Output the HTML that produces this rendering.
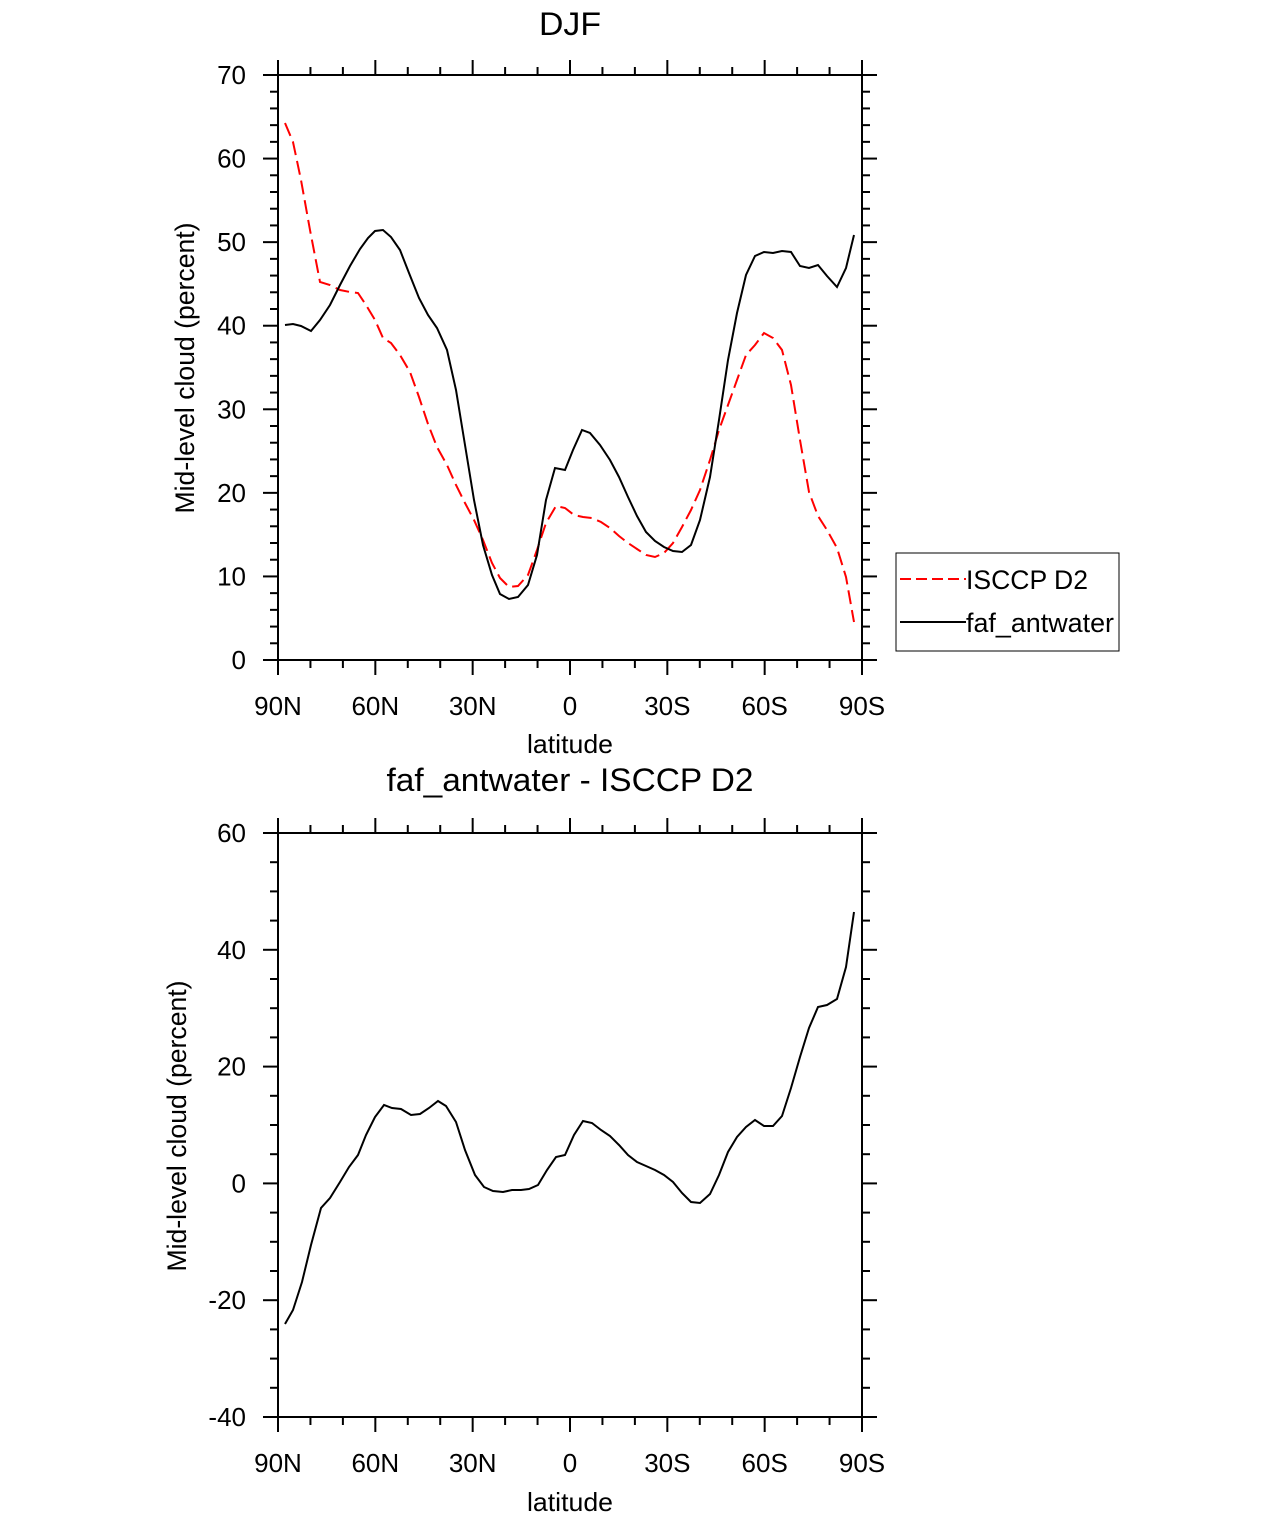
<!DOCTYPE html>
<html><head><meta charset="utf-8"><style>
html,body{margin:0;padding:0;background:#fff}
svg{display:block;font-family:"Liberation Sans",Arial,sans-serif}
</style></head><body>
<svg id="s" width="1285" height="1517" viewBox="0 0 1285 1517" xmlns="http://www.w3.org/2000/svg">
<text x="570" y="35" font-size="32" text-anchor="middle" textLength="62" lengthAdjust="spacingAndGlyphs">DJF</text>
<text x="570" y="791" font-size="32" text-anchor="middle" textLength="367" lengthAdjust="spacingAndGlyphs">faf_antwater - ISCCP D2</text>
<rect x="278" y="75" width="584" height="585" fill="none" stroke="#000" stroke-width="2"/>
<rect x="278" y="833" width="584" height="584" fill="none" stroke="#000" stroke-width="2"/>
<text transform="translate(194,368) rotate(-90)" font-size="27" text-anchor="middle" textLength="291" lengthAdjust="spacingAndGlyphs">Mid-level cloud (percent)</text>
<text transform="translate(186,1126) rotate(-90)" font-size="27" text-anchor="middle" textLength="291" lengthAdjust="spacingAndGlyphs">Mid-level cloud (percent)</text>
<text x="570" y="753" font-size="26" text-anchor="middle" textLength="86" lengthAdjust="spacingAndGlyphs">latitude</text>
<text x="570" y="1511" font-size="26" text-anchor="middle" textLength="86" lengthAdjust="spacingAndGlyphs">latitude</text>
<g id="ticks" stroke="#000" stroke-width="2"></g>
<g id="labels" font-size="26"></g>
<polyline fill="none" stroke="#f00" stroke-width="2" stroke-dasharray="14,6" points="285,123 293,142 301,180 310,230 320,282 330,285 340,290 350,292 358,293 366,305 375,320 383,338 391,343 400,355 410,372 419,397 428,424 437,447 447,465 456,485 465,503 474,520 483,540 492,563 500,578 509,587 518,586 528,575 537,550 546,523 556,506 565,508 574,515 583,517 592,518 601,522 610,528 619,536 628,543 637,549 646,555 655,557 664,553 673,543 682,527 691,510 700,490 710,460 719,430 728,405 737,380 746,355 755,345 764,333 773,338 782,350 791,385 800,440 809,492 818,516 827,530 837,548 846,577 854,622"/>
<polyline fill="none" stroke="#000" stroke-width="2" points="285,325 293,324 301,326 311,331 320,320 330,305 340,285 350,266 360,249 368,238 375,231 383,230 391,237 400,250 409,273 419,298 428,315 437,328 447,350 456,390 465,445 474,500 483,545 492,575 500,594 509,599 518,597 528,585 537,555 546,500 555,468 565,470 573,450 582,430 590,433 600,445 610,460 619,477 628,497 637,516 646,532 655,541 664,547 673,551 682,552 691,545 700,520 710,477 719,420 728,360 737,313 746,275 755,256 764,252 773,253 782,251 791,252 800,266 809,268 818,265 827,276 837,287 846,268 854,235"/>
<polyline fill="none" stroke="#000" stroke-width="2" points="285,1324 293,1310 302,1282 311,1245 321,1208 330,1198 340,1182 349,1167 358,1155 366,1135 375,1117 384,1105 392,1108 401,1109 411,1115 420,1114 429,1108 438,1101 446,1106 456,1122 465,1150 475,1175 484,1187 493,1191 503,1192 512,1190 521,1190 529,1189 538,1185 547,1170 556,1157 565,1155 574,1135 583,1121 592,1123 601,1130 610,1136 619,1145 628,1155 637,1162 646,1166 655,1170 664,1175 673,1182 682,1193 691,1202 700,1203 710,1194 719,1175 728,1152 737,1137 746,1127 755,1120 764,1126 773,1126 782,1116 791,1088 800,1057 809,1028 818,1007 827,1005 837,999 846,967 854,912"/>
<rect x="896" y="553" width="223" height="98" fill="none" stroke="#000" stroke-width="1"/>
<line x1="900" y1="579" x2="966" y2="579" stroke="#f00" stroke-width="2" stroke-dasharray="11,5"/>
<line x1="900" y1="622" x2="966" y2="622" stroke="#000" stroke-width="2"/>
<text x="966" y="589" font-size="27" textLength="122" lengthAdjust="spacingAndGlyphs">ISCCP D2</text>
<text x="966" y="632" font-size="27" textLength="148" lengthAdjust="spacingAndGlyphs">faf_antwater</text>
</svg>
<script>
var T=document.getElementById('ticks'),L=document.getElementById('labels'),ns='http://www.w3.org/2000/svg';
function ln(a,b,c,d){var e=document.createElementNS(ns,'line');e.setAttribute('x1',a);e.setAttribute('y1',b);e.setAttribute('x2',c);e.setAttribute('y2',d);T.appendChild(e);}
function tx(x,y,s,anc){var e=document.createElementNS(ns,'text');e.setAttribute('x',x);e.setAttribute('y',y);e.setAttribute('text-anchor',anc);e.textContent=s;L.appendChild(e);}
var xl=['90N','60N','30N','0','30S','60S','90S'];
function panel(top,bot,vmin,vmax,major,minor){
  var xs=584/180;
  for(var d=0;d<=180;d+=10){var x=278+d*xs,M=(d%30==0),len=M?15:8;
    ln(x,top,x,top-len);ln(x,bot,x,bot+len);
    if(M)tx(x,bot+55,xl[d/30],'middle');}
  var ps=(bot-top)/(vmax-vmin);
  for(var v=vmin;v<=vmax+1e-9;v+=minor){var y=bot-(v-vmin)*ps,M=(Math.abs(v%major)<1e-6),len=M?15:8;
    ln(278,y,278-len,y);ln(862,y,862+len,y);
    if(M)tx(246,y+9,String(v),'end');}
}
panel(75,660,0,70,10,2);
panel(833,1417,-40,60,20,5);
</script>
</body></html>
